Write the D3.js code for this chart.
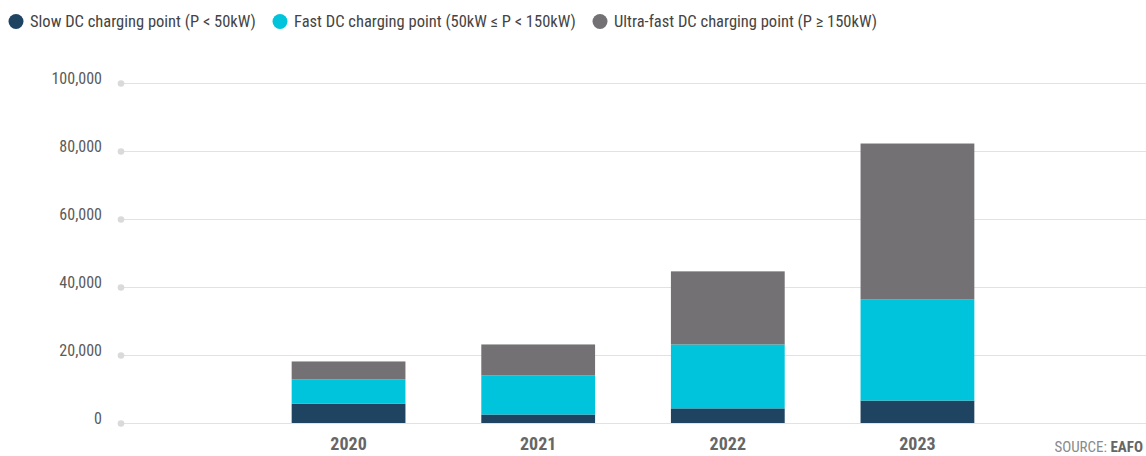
<!DOCTYPE html>
<html>
<head>
<meta charset="utf-8">
<script src="https://cdn.jsdelivr.net/npm/d3@7"></script>
<style>
  body { margin: 0; background: #fff; }
  svg text { font-family: "Roboto Condensed", "Liberation Sans Narrow", Roboto, sans-serif; }
</style>
</head>
<body>
<svg id="chart"></svg>
<script>
// values
const years = ["2020", "2021", "2022", "2023"];
const slowDC = [5700, 2500, 4300, 6600];
const fastDC = [7100, 11500, 18800, 29700];
const ultraDC = [5300, 9100, 21500, 45900];
const yTicks = [0, 20000, 40000, 60000, 80000, 100000];

const seriesNames = [
  "Slow DC charging point (P < 50kW)",
  "Fast DC charging point (50kW \u2264 P < 150kW)",
  "Ultra-fast DC charging point (P \u2265 150kW)"
];
const seriesKeys = ["slow", "fast", "ultra"];
const colors = ["#1e4461", "#00c4dc", "#737174"];

const WIDTH = 1146;
const HEIGHT = 456;
const PADDING = { TOP: 83, BOTTOM: 33, LEFT: 121, RIGHT: 1 };

const svg = d3.select("#chart")
  .attr("width", WIDTH)
  .attr("height", HEIGHT);

const table = years.map((y, i) => ({
  year: y, slow: slowDC[i], fast: fastDC[i], ultra: ultraDC[i]
}));

const stacked = d3.stack().keys(seriesKeys)(table);

const xScale = d3.scaleBand()
  .domain(years)
  .range([PADDING.LEFT, WIDTH - PADDING.RIGHT])
  .paddingInner(0.4)
  .paddingOuter(0.9);

const yScale = d3.scaleLinear()
  .domain([0, 100000])
  .range([HEIGHT - PADDING.BOTTOM, PADDING.TOP]);

// gridlines + dot ticks
const grid = svg.append("g");
grid.selectAll("line")
  .data(yTicks)
  .enter()
  .append("line")
    .attr("x1", PADDING.LEFT)
    .attr("x2", WIDTH)
    .attr("y1", d => Math.round(yScale(d)) + 0.5)
    .attr("y2", d => Math.round(yScale(d)) + 0.5)
    .attr("stroke", "#e2e2e2")
    .attr("stroke-width", 1);
grid.selectAll("circle")
  .data(yTicks)
  .enter()
  .append("circle")
    .attr("cx", PADDING.LEFT)
    .attr("cy", d => Math.round(yScale(d)) + 0.5)
    .attr("r", 3.3)
    .attr("fill", "#dadada");
grid.selectAll("text")
  .data(yTicks)
  .enter()
  .append("text")
    .attr("x", 102)
    .attr("y", d => yScale(d) + 1)
    .attr("text-anchor", "end")
    .attr("fill", "#5a5a5a")
    .style("font-size", "16px")
    .text(d => d3.format(",")(d));

// stacked bars
svg.append("g")
  .selectAll("g")
  .data(stacked)
  .enter()
  .append("g")
    .attr("fill", (d, i) => colors[i])
  .selectAll("rect")
  .data(d => d)
  .enter()
  .append("rect")
    .attr("x", d => xScale(d.data.year))
    .attr("width", xScale.bandwidth())
    .attr("y", d => yScale(d[1]))
    .attr("height", d => yScale(d[0]) - yScale(d[1]));

// x labels
svg.append("g")
  .selectAll("text")
  .data(years)
  .enter()
  .append("text")
    .attr("x", d => xScale(d) + xScale.bandwidth() / 2)
    .attr("y", 450)
    .attr("text-anchor", "middle")
    .attr("fill", "#666")
    .style("font-size", "18px")
    .style("font-weight", "bold")
    .text(d => d);

// legend
const legendX = [16, 280, 600];
const legend = svg.append("g");
seriesNames.forEach((name, i) => {
  legend.append("circle")
    .attr("cx", legendX[i])
    .attr("cy", 21.5)
    .attr("r", 7.5)
    .attr("fill", colors[i]);
  legend.append("text")
    .attr("x", legendX[i] + 14)
    .attr("y", 27)
    .attr("fill", "#444")
    .style("font-size", "16.5px")
    .text(name);
});

// source
const src = svg.append("text")
  .attr("x", 1143)
  .attr("y", 452)
  .attr("text-anchor", "end")
  .style("font-size", "15px");
src.append("tspan").attr("fill", "#8a8a8a").text("SOURCE: ");
src.append("tspan").attr("fill", "#666").style("font-weight", "bold").text("EAFO");
</script>
</body>
</html>
